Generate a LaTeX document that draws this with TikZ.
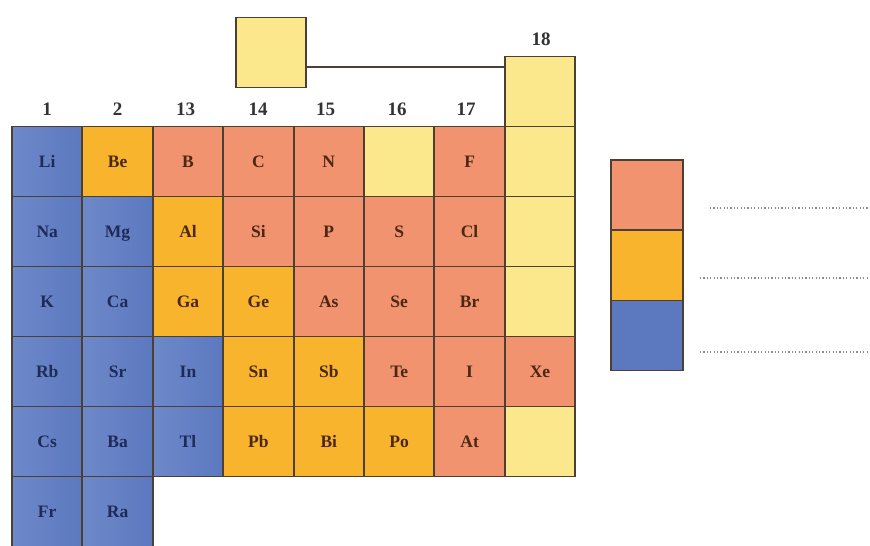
\documentclass[tikz,border=0pt]{standalone}
\usepackage{fontspec}
\setmainfont{Liberation Serif}
\usetikzlibrary{calc}
\definecolor{cblue}{HTML}{5C78BF}
\definecolor{cbluel}{HTML}{6E89C9}
\definecolor{corange}{HTML}{F8B42C}
\definecolor{csalmon}{HTML}{F1936E}
\definecolor{cyellow}{HTML}{FBE78C}
\definecolor{cedge}{HTML}{4E3F33}
\definecolor{tblue}{HTML}{1E2A58}
\definecolor{tbrown}{HTML}{4A2814}
\definecolor{cdot}{HTML}{8A8A8A}
\tikzset{
  cell/.style={draw=cedge, line width=1.9pt, minimum width=70.4pt, minimum height=70pt, inner sep=0pt, text height=12pt, text depth=0pt, font=\fontsize{17.5}{17.5}\selectfont\bfseries},
  bl/.style={cell, left color=cbluel, right color=cblue, text=tblue},
  orr/.style={cell, fill=corange, text=tbrown},
  sa/.style={cell, fill=csalmon, text=tbrown},
  ye/.style={cell, fill=cyellow, text=tbrown},
  grp/.style={font=\fontsize{19}{19}\selectfont\bfseries, text=black!80, inner sep=0pt, text height=13pt, text depth=0pt},
  leg/.style={draw=cedge, line width=1.9pt, minimum width=72pt, minimum height=70pt, inner sep=0pt},
  dots/.style={line width=1.2pt, cdot, dash pattern=on 1.2pt off 2.2pt},
}
\begin{document}
\begin{tikzpicture}[x=1pt, y=-1pt]
\useasboundingbox (0,0) rectangle (870,546);
\fill[white] (0,0) rectangle (870,546);
% column x centres
\def\ca{47.2}\def\cb{117.6}\def\cc{188}\def\cd{258.4}\def\ce{328.8}\def\cf{399.2}\def\cg{469.6}\def\ch{540}
% row y centres
\def\ra{161.5}\def\rb{231.5}\def\rc{301.5}\def\rd{371.5}\def\re{441.5}\def\rf{511.5}
% Row 2
\node[bl] (Li) at (\ca,\ra) {Li};
\node[orr] (Be) at (\cb,\ra) {Be};
\node[sa] (B) at (\cc,\ra) {B};
\node[sa] (C) at (\cd,\ra) {C};
\node[sa] (N) at (\ce,\ra) {N};
\node[ye] (O) at (\cf,\ra) {};
\node[sa] (F) at (\cg,\ra) {F};
\node[ye] (Ne) at (\ch,\ra) {};
% Row 3
\node[bl] (Na) at (\ca,\rb) {Na};
\node[bl] (Mg) at (\cb,\rb) {Mg};
\node[orr] (Al) at (\cc,\rb) {Al};
\node[sa] (Si) at (\cd,\rb) {Si};
\node[sa] (P) at (\ce,\rb) {P};
\node[sa] (S) at (\cf,\rb) {S};
\node[sa] (Cl) at (\cg,\rb) {Cl};
\node[ye] (Ar) at (\ch,\rb) {};
% Row 4
\node[bl] (K) at (\ca,\rc) {K};
\node[bl] (Ca) at (\cb,\rc) {Ca};
\node[orr] (Ga) at (\cc,\rc) {Ga};
\node[orr] (Ge) at (\cd,\rc) {Ge};
\node[sa] (As) at (\ce,\rc) {As};
\node[sa] (Se) at (\cf,\rc) {Se};
\node[sa] (Br) at (\cg,\rc) {Br};
\node[ye] (Kr) at (\ch,\rc) {};
% Row 5
\node[bl] (Rb) at (\ca,\rd) {Rb};
\node[bl] (Sr) at (\cb,\rd) {Sr};
\node[bl] (In) at (\cc,\rd) {In};
\node[orr] (Sn) at (\cd,\rd) {Sn};
\node[orr] (Sb) at (\ce,\rd) {Sb};
\node[sa] (Te) at (\cf,\rd) {Te};
\node[sa] (I) at (\cg,\rd) {I};
\node[sa] (Xe) at (\ch,\rd) {Xe};
% Row 6
\node[bl] (Cs) at (\ca,\re) {Cs};
\node[bl] (Ba) at (\cb,\re) {Ba};
\node[bl] (Tl) at (\cc,\re) {Tl};
\node[orr] (Pb) at (\cd,\re) {Pb};
\node[orr] (Bi) at (\ce,\re) {Bi};
\node[orr] (Po) at (\cf,\re) {Po};
\node[sa] (At) at (\cg,\re) {At};
\node[ye] (Rn) at (\ch,\re) {};
% Row 7
\node[bl] (Fr) at (\ca,\rf) {Fr};
\node[bl] (Ra) at (\cb,\rf) {Ra};
% Row 1
\node[ye] (He) at (\ch,91.5) {};
\node[ye] (H) at (271,52.5) {};
\coordinate (hl) at ($(H.north east)!0.7!(H.south east)$);
\draw[cedge, line width=1.5pt] (hl) -- (hl -| He.west);
% group numbers
\node[grp] (g1) at (\ca,109) {1};
\node[grp] (g2) at (\cb,109) {2};
\node[grp] (g13) at (185.5,109) {13};
\node[grp] (g14) at (258,109) {14};
\node[grp] (g15) at (325.5,109) {15};
\node[grp] (g16) at (397,109) {16};
\node[grp] (g17) at (466,109) {17};
\node[grp] (g18) at (541,39) {18};
% legend
\node[leg, fill=csalmon] (L1) at (647,195) {};
\node[leg, fill=corange] (L2) at (647,265.5) {};
\node[leg, fill=cblue] (L3) at (647,335.5) {};
\coordinate (d1a) at (710,208); \coordinate (d1b) at (870,208);
\coordinate (d2a) at (700,278); \coordinate (d2b) at (870,278);
\coordinate (d3a) at (700,352); \coordinate (d3b) at (870,352);
\draw[dots] (d1a) -- (d1b);
\draw[dots] (d2a) -- (d2b);
\draw[dots] (d3a) -- (d3b);
\end{tikzpicture}
\end{document}
